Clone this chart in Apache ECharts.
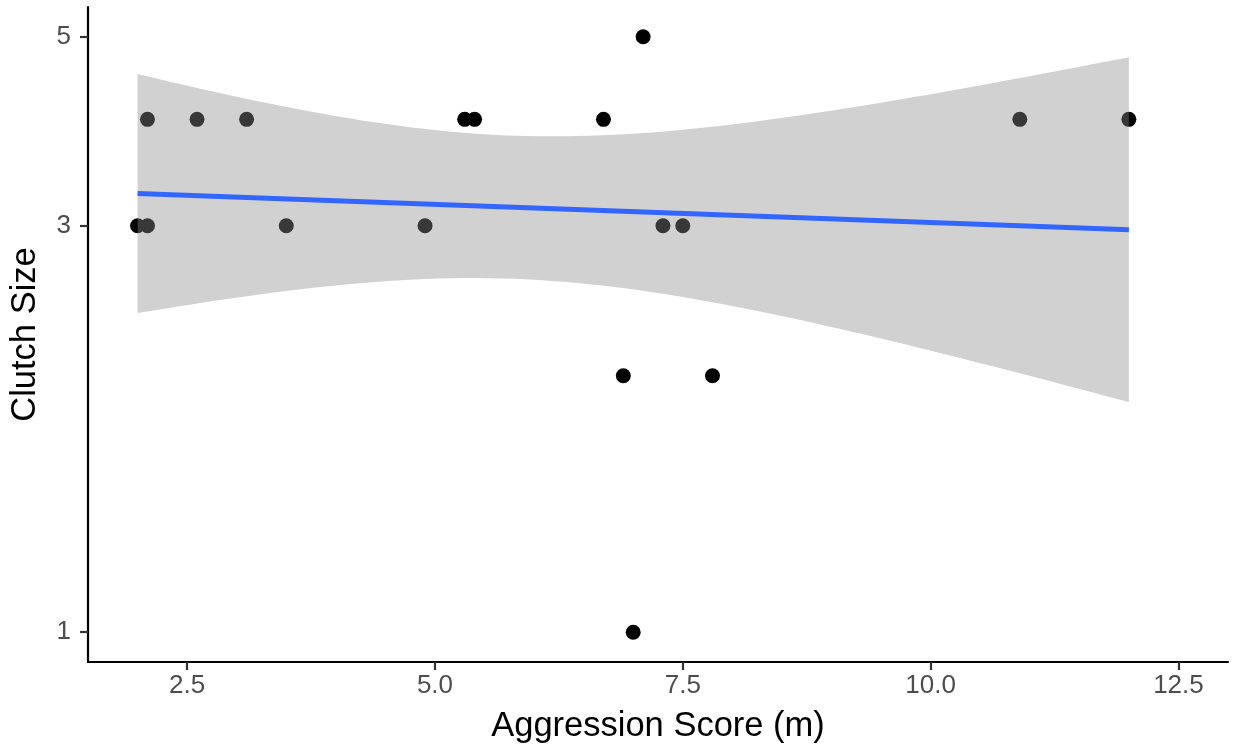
<!DOCTYPE html>
<html>
<head>
<meta charset="utf-8">
<script src="https://cdn.jsdelivr.net/npm/echarts@6/dist/echarts.min.js"></script>
<style>
  html, body { margin: 0; padding: 0; background: #fff; }
  #chart { width: 1235px; height: 749px; }
</style>
</head>
<body>
<div id="chart"></div>
<script>
const aggressionScores = [2.0, 2.1, 2.1, 2.6, 3.1, 3.5, 4.9, 5.3, 5.4, 6.7, 6.9, 7.0, 7.1, 7.3, 7.5, 7.8, 10.9, 12.0]
const clutchSizes = [3, 3, 4, 4, 4, 3, 3, 4, 4, 4, 2, 1, 5, 3, 3, 2, 4, 4]

const xTicks = [2.5, 5.0, 7.5, 10.0, 12.5]
const yTicks = [1, 3, 5]
const xRange = [1.5, 13.0]

// t quantile (0.975, df = n - 2 = 16) for the 95% band, like geom_smooth(method = 'lm')
const tCrit = 2.1199

const font = '"Liberation Sans", Arial, Helvetica, sans-serif'

// y is shown on a log10 scale
const logY = clutchSizes.map(v => Math.log10(v))

function linearFit(xs, ys) {
  const n = xs.length
  const mx = xs.reduce((a, b) => a + b, 0) / n
  const my = ys.reduce((a, b) => a + b, 0) / n
  let sxx = 0, sxy = 0
  xs.forEach((x, i) => {
    sxx += (x - mx) * (x - mx)
    sxy += (x - mx) * (ys[i] - my)
  })
  const slope = sxy / sxx
  const intercept = my - slope * mx
  let sse = 0
  xs.forEach((x, i) => {
    const r = ys[i] - (intercept + slope * x)
    sse += r * r
  })
  const s = Math.sqrt(sse / (n - 2))
  return {
    predict: x => intercept + slope * x,
    se: x => s * Math.sqrt(1 / n + (x - mx) * (x - mx) / sxx),
  }
}

const fit = linearFit(aggressionScores, logY)
const xMin = Math.min(...aggressionScores)
const xMax = Math.max(...aggressionScores)

// evaluate the fit on 80 points across the data range (as ggplot does)
const bandX = []
for (let i = 0; i < 80; i++) bandX.push(xMin + (xMax - xMin) * i / 79)
const bandHi = bandX.map(x => fit.predict(x) + tCrit * fit.se(x))
const bandLo = bandX.map(x => fit.predict(x) - tCrit * fit.se(x))

const yLogMin = Math.log10(Math.min(...clutchSizes))
const yLogMax = Math.log10(Math.max(...clutchSizes))
const yPad = (yLogMax - yLogMin) * 0.05

const chart = echarts.init(document.getElementById('chart'))

chart.setOption({
  animation: false,
  backgroundColor: '#fff',
  textStyle: { fontFamily: font },
  grid: { left: 87, right: 7, top: 7, bottom: 87, containLabel: false },
  xAxis: {
    type: 'value',
    min: xRange[0],
    max: xRange[1],
    name: 'Aggression Score (m)',
    nameLocation: 'middle',
    nameGap: 47,
    nameTextStyle: { color: '#000', fontSize: 34.5, fontFamily: font },
    axisLine: { show: true, onZero: false, lineStyle: { color: '#000', width: 2.2 } },
    axisTick: { show: true, length: 8, customValues: xTicks, lineStyle: { color: '#333', width: 2.2 } },
    axisLabel: {
      customValues: xTicks,
      color: '#4d4d4d', fontSize: 26, margin: 11, fontFamily: font,
      formatter: v => v.toFixed(1),
    },
    splitLine: { show: false },
  },
  yAxis: {
    type: 'value',
    min: yLogMin - yPad,
    max: yLogMax + yPad,
    name: 'Clutch Size',
    nameLocation: 'middle',
    nameGap: 45,
    nameTextStyle: { color: '#000', fontSize: 34.5, fontFamily: font },
    axisLine: { show: true, onZero: false, lineStyle: { color: '#000', width: 2.2 } },
    axisTick: { show: true, length: 8, customValues: yTicks.map(v => Math.log10(v)), lineStyle: { color: '#333', width: 2.2 } },
    axisLabel: {
      customValues: yTicks.map(v => Math.log10(v)),
      color: '#4d4d4d', fontSize: 26, margin: 17, fontFamily: font,
      formatter: v => String(Math.round(Math.pow(10, v))),
    },
    splitLine: { show: false },
  },
  series: [
    {
      type: 'scatter',
      z: 1,
      symbolSize: 15,
      itemStyle: { color: '#000', opacity: 1 },
      data: aggressionScores.map((x, i) => [x, logY[i]]),
    },
    {
      type: 'custom',
      z: 2,
      data: [0],
      renderItem: (params, api) => {
        const pts = []
        bandX.forEach((x, i) => pts.push(api.coord([x, bandHi[i]])))
        for (let i = bandX.length - 1; i >= 0; i--) pts.push(api.coord([bandX[i], bandLo[i]]))
        return {
          type: 'polygon',
          shape: { points: pts },
          style: { fill: 'rgba(140,140,140,0.4)' },
        }
      },
    },
    {
      type: 'line',
      z: 3,
      showSymbol: false,
      lineStyle: { color: '#3366ff', width: 5 },
      data: [[xMin, fit.predict(xMin)], [xMax, fit.predict(xMax)]],
    },
  ],
})
</script>
</body>
</html>
